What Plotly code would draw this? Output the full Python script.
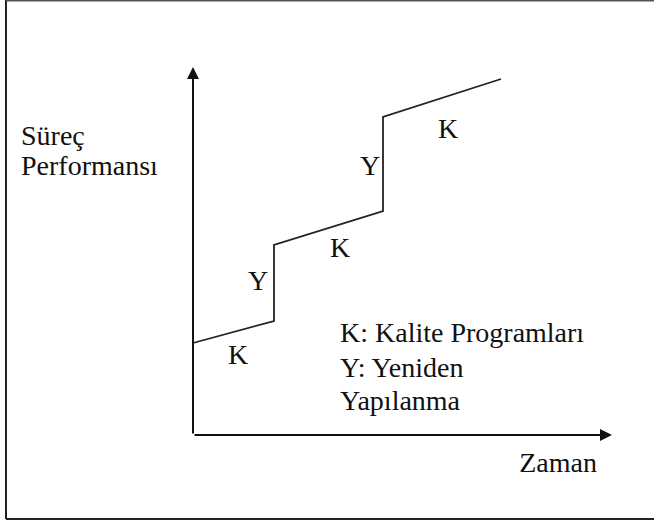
import plotly.graph_objects as go

# Data (time vs process performance), origin at axes intersection
time = [0, 81, 81, 190, 190, 308]
performance = [92, 114, 190, 224, 318, 356]

# Segment labels: K = quality programs, Y = restructuring
seg_labels = ["K", "Y", "K", "Y", "K"]
seg_label_x = [45, 65, 147, 177, 255]
seg_label_y = [78, 152, 185, 267, 304]

y_title_lines = ["Süreç", "Performansı"]
y_title_y = [297, 267]
legend_lines = ["K: Kalite Programları", "Y: Yeniden", "Yapılanma"]
legend_y = [100, 65, 32]
x_title = "Zaman"

axis_x_end = 419
axis_y_end = 368

W, H = 654, 521
X0, Y0 = 193, 435  # pixel position of origin

FONT = "Liberation Serif"
FS = 28
INK = "#111111"

fig = go.Figure()
fig.add_trace(go.Scatter(
    x=time, y=performance, mode="lines",
    line=dict(color="#222222", width=1.8),
    hoverinfo="skip", showlegend=False,
))
fig.add_trace(go.Scatter(
    x=seg_label_x, y=seg_label_y, mode="text", text=seg_labels,
    textfont=dict(family=FONT, size=FS, color=INK),
    hoverinfo="skip", showlegend=False,
))
fig.add_trace(go.Scatter(
    x=[21 - X0] * len(y_title_lines), y=y_title_y, mode="text", text=y_title_lines,
    textposition="middle right",
    textfont=dict(family=FONT, size=FS, color=INK),
    hoverinfo="skip", showlegend=False,
))
fig.add_trace(go.Scatter(
    x=[340 - X0] * len(legend_lines), y=legend_y, mode="text", text=legend_lines,
    textposition="middle right",
    textfont=dict(family=FONT, size=FS, color=INK),
    hoverinfo="skip", showlegend=False,
))
fig.add_trace(go.Scatter(
    x=[597 - X0], y=[-30], mode="text", text=[x_title],
    textposition="middle left",
    textfont=dict(family=FONT, size=FS, color=INK),
    hoverinfo="skip", showlegend=False,
))

annotations = [
    dict(x=0, y=axis_y_end, ax=0, ay=0, xref="x", yref="y", axref="x", ayref="y",
         showarrow=True, arrowhead=2, arrowsize=1.2, arrowwidth=2, arrowcolor=INK, text=""),
    dict(x=axis_x_end, y=0, ax=0, ay=0, xref="x", yref="y", axref="x", ayref="y",
         showarrow=True, arrowhead=2, arrowsize=1.2, arrowwidth=2, arrowcolor=INK, text=""),
]

shapes = [
    dict(type="line", xref="paper", yref="paper", x0=6 / W, x1=6 / W, y0=1 - 519 / H, y1=1.0,
         line=dict(color="#222222", width=2)),
    dict(type="line", xref="paper", yref="paper", x0=6 / W, x1=1.0, y0=1 - 0.5 / H, y1=1 - 0.5 / H,
         line=dict(color="#555555", width=2)),
    dict(type="line", xref="paper", yref="paper", x0=6 / W, x1=1.0, y0=1 - 519 / H, y1=1 - 519 / H,
         line=dict(color="#222222", width=2)),
]

fig.update_layout(
    width=W, height=H,
    margin=dict(l=0, r=0, t=0, b=0),
    paper_bgcolor="white", plot_bgcolor="white",
    xaxis=dict(range=[-X0, W - X0], visible=False, fixedrange=True),
    yaxis=dict(range=[Y0 - H, Y0], visible=False, fixedrange=True),
    annotations=annotations, shapes=shapes,
)

fig.write_html("out.html", config={"displayModeBar": False},
               post_script="document.body.style.margin='0';document.body.style.overflow='hidden';")
